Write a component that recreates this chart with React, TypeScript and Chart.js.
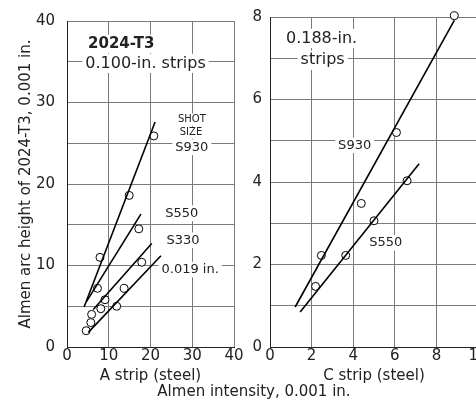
import React, { useEffect, useRef } from 'react';
import { Chart, registerables } from 'chart.js';

Chart.register(...registerables);

const FONT = '"DejaVu Sans", sans-serif';
const INK = '#222';
const GRID = '#7a7a7a';

// ---- Left panel: A strip (steel), 0.100-in. strips ----
const aTicksX = [0, 10, 20, 30, 40];
const aTicksY = [0, 10, 20, 30, 40];
const aPointX = [20.8, 14.9, 7.9, 17.2, 7.3, 17.9, 13.7, 9.1, 8.1, 11.9, 5.9, 5.7, 4.6];
const aPointY = [25.9, 18.6, 11.0, 14.5, 7.2, 10.4, 7.2, 5.8, 4.7, 5.0, 4.0, 3.0, 2.0];
const aS930X = [4.1, 21.1];
const aS930Y = [4.9, 27.6];
const aS550X = [4.7, 17.7];
const aS550Y = [5.6, 16.3];
const aS330X = [6.3, 20.3];
const aS330Y = [4.6, 12.7];
const a019X = [5.1, 22.5];
const a019Y = [1.8, 11.2];

// ---- Right panel: C strip (steel), 0.188-in. strips ----
const cTicksX = [0, 2, 4, 6, 8, 10];
const cTicksY = [0, 2, 4, 6, 8];
const cPointX = [8.86, 6.08, 6.59, 4.39, 5.0, 2.47, 3.64, 2.19];
const cPointY = [8.03, 5.2, 4.03, 3.48, 3.06, 2.22, 2.22, 1.47];
const cS930X = [1.21, 8.86];
const cS930Y = [0.97, 7.92];
const cS550X = [1.45, 7.17];
const cS550Y = [0.85, 4.44];

type Label = { text: string; x: number; y: number; size: number; bold?: boolean; bg?: boolean };

const aLabels: Label[] = [
  { text: '2024-T3', x: 13.0, y: 37.2, size: 15, bold: true, bg: true },
  { text: '0.100-in. strips', x: 18.8, y: 34.8, size: 16, bg: true },
  { text: 'SHOT', x: 29.9, y: 27.9, size: 10, bg: true },
  { text: 'SIZE', x: 29.7, y: 26.3, size: 10, bg: true },
  { text: 'S930', x: 29.9, y: 24.5, size: 13, bg: true },
  { text: 'S550', x: 27.5, y: 16.4, size: 13, bg: true },
  { text: 'S330', x: 27.8, y: 13.1, size: 13, bg: true },
  { text: '0.019 in.', x: 29.5, y: 9.5, size: 13, bg: true },
];

const cLabels: Label[] = [
  { text: '0.188-in.', x: 2.48, y: 7.48, size: 16, bg: true },
  { text: 'strips', x: 2.53, y: 6.95, size: 16, bg: true },
  { text: 'S930', x: 4.07, y: 4.89, size: 13, bg: true },
  { text: 'S550', x: 5.57, y: 2.52, size: 13, bg: true },
];

const zip = (xs: number[], ys: number[]) => xs.map((x, i) => ({ x, y: ys[i] }));

const labelPlugin = (labels: Label[]) => ({
  id: 'panelLabels',
  beforeDatasetsDraw(chart: any) {
    const ctx = chart.ctx;
    const xs = chart.scales.x;
    const ys = chart.scales.y;
    ctx.save();
    ctx.textAlign = 'center';
    ctx.textBaseline = 'middle';
    for (const l of labels) {
      ctx.font = `${l.bold ? 'bold ' : ''}${l.size}px ${FONT}`;
      const px = xs.getPixelForValue(l.x);
      const py = ys.getPixelForValue(l.y);
      if (l.bg) {
        const w = ctx.measureText(l.text).width;
        ctx.fillStyle = '#fff';
        ctx.fillRect(px - w / 2 - 3, py - l.size * 0.6, w + 6, l.size * 1.2);
      }
      ctx.fillStyle = INK;
      ctx.fillText(l.text, px, py);
    }
    ctx.restore();
  },
});

const lineDs = (xs: number[], ys: number[]) => ({
  data: zip(xs, ys),
  showLine: true,
  borderColor: '#000',
  borderWidth: 1.6,
  pointRadius: 0,
  pointHoverRadius: 0,
});

const pointDs = (xs: number[], ys: number[]) => ({
  data: zip(xs, ys),
  showLine: false,
  pointRadius: 4,
  pointBorderWidth: 1,
  pointBorderColor: '#000',
  pointBackgroundColor: '#fff',
  clip: false as any,
});

function makeOptions(p: {
  xMax: number; xStep: number; xTicks: number[];
  yMax: number; yStep: number; yTicks: number[];
  yWidth: number; yTitle?: string; yTickPad: number;
  xTitle: string; padRight: number;
}) {
  return {
    animation: false,
    responsive: false,
    events: [],
    layout: { padding: { top: 13, right: p.padRight, left: 0, bottom: 0 } },
    plugins: { legend: { display: false }, tooltip: { enabled: false } },
    scales: {
      x: {
        type: 'linear',
        min: 0,
        max: p.xMax,
        afterFit: (s: any) => { s.height = 63; },
        afterBuildTicks: (s: any) => { s.ticks = p.xTicks.map((v) => ({ value: v })); },
        ticks: {
          padding: 0,
          color: INK,
          font: { family: FONT, size: 15 },
          maxRotation: 0,
          autoSkip: false,
          callback: (v: any) => String(v),
        },
        grid: { color: GRID, lineWidth: 1, drawTicks: false },
        border: { display: true, color: INK, width: 1 },
        title: {
          display: true,
          text: p.xTitle,
          color: INK,
          font: { family: FONT, size: 15 },
          padding: { top: 0, bottom: 25 },
        },
      },
      y: {
        type: 'linear',
        min: 0,
        max: p.yMax,
        afterFit: (s: any) => { s.width = p.yWidth; },
        afterBuildTicks: (s: any) => {
          const t = [];
          for (let v = 0; v <= p.yMax + 1e-9; v += p.yStep) t.push({ value: v });
          s.ticks = t;
        },
        ticks: {
          padding: p.yTickPad,
          color: INK,
          font: { family: FONT, size: 15 },
          autoSkip: false,
          callback: (v: any) => (p.yTicks.includes(v) ? String(v) : ''),
        },
        grid: { color: GRID, lineWidth: 1, drawTicks: false },
        border: { display: true, color: INK, width: 1 },
        title: p.yTitle
          ? {
              display: true,
              text: p.yTitle,
              color: INK,
              font: { family: FONT, size: 15 },
              padding: { top: 17, bottom: 0 },
            }
          : { display: false },
      },
    },
  } as any;
}

export default function App() {
  const leftRef = useRef<HTMLCanvasElement>(null);
  const rightRef = useRef<HTMLCanvasElement>(null);

  useEffect(() => {
    const left = new Chart(leftRef.current as HTMLCanvasElement, {
      type: 'scatter',
      data: {
        datasets: [
          lineDs(aS930X, aS930Y),
          lineDs(aS550X, aS550Y),
          lineDs(aS330X, aS330Y),
          lineDs(a019X, a019Y),
          pointDs(aPointX, aPointY),
        ] as any,
      },
      options: makeOptions({
        xMax: 40, xStep: 10, xTicks: aTicksX,
        yMax: 40, yStep: 5, yTicks: aTicksY,
        yWidth: 67, yTitle: 'Almen arc height of 2024-T3, 0.001 in.', yTickPad: 12,
        xTitle: 'A strip (steel)', padRight: 16,
      }),
      plugins: [labelPlugin(aLabels)],
    });
    const right = new Chart(rightRef.current as HTMLCanvasElement, {
      type: 'scatter',
      data: {
        datasets: [
          lineDs(cS930X, cS930Y),
          lineDs(cS550X, cS550Y),
          pointDs(cPointX, cPointY),
        ] as any,
      },
      options: makeOptions({
        xMax: 10, xStep: 2, xTicks: cTicksX,
        yMax: 8, yStep: 1, yTicks: cTicksY,
        yWidth: 20, yTickPad: 8,
        xTitle: 'C strip (steel)', padRight: 12,
      }),
      plugins: [labelPlugin(cLabels)],
    });
    return () => {
      left.destroy();
      right.destroy();
    };
  }, []);

  return (
    <div
      style={{
        position: 'absolute',
        left: 0,
        top: 0,
        width: 476,
        height: 410,
        overflow: 'hidden',
        background: '#fff',
      }}
    >
      <canvas
        ref={leftRef}
        width={250}
        height={410}
        style={{ position: 'absolute', left: 0, top: 0, width: 250, height: 410 }}
      />
      <canvas
        ref={rightRef}
        width={240}
        height={410}
        style={{ position: 'absolute', left: 250, top: 0, width: 240, height: 410 }}
      />
      <div
        style={{
          position: 'absolute',
          left: 0,
          top: 383,
          width: 508,
          textAlign: 'center',
          fontFamily: FONT,
          fontSize: 15,
          lineHeight: '16px',
          color: INK,
        }}
      >
        Almen intensity, 0.001 in.
      </div>
    </div>
  );
}
